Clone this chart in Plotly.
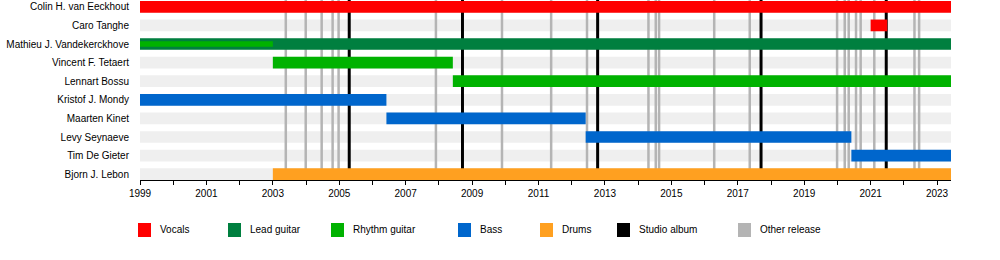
import plotly.graph_objects as go

# ---------------- data ----------------
members = [
    "Colin H. van Eeckhout", "Caro Tanghe", "Mathieu J. Vandekerckhove",
    "Vincent F. Tetaert", "Lennart Bossu", "Kristof J. Mondy",
    "Maarten Kinet", "Levy Seynaeve", "Tim De Gieter", "Bjorn J. Lebon",
]
START = 1999
END = 2023.42

roles = ["Vocals", "Lead guitar", "Rhythm guitar", "Bass", "Drums"]
role_colors = ["#ff0000", "#007f3f", "#00b200", "#0066cc", "#ffa020"]

# main membership bars
bar_member = ["Colin H. van Eeckhout", "Caro Tanghe", "Mathieu J. Vandekerckhove",
              "Vincent F. Tetaert", "Lennart Bossu", "Kristof J. Mondy",
              "Maarten Kinet", "Levy Seynaeve", "Tim De Gieter", "Bjorn J. Lebon"]
bar_role = ["Vocals", "Vocals", "Lead guitar", "Rhythm guitar", "Rhythm guitar",
            "Bass", "Bass", "Bass", "Bass", "Drums"]
bar_start = [1999, 2021.0, 1999, 2003.0, 2008.42, 1999, 2006.42, 2012.42, 2020.42, 2003.0]
bar_end = [END, 2021.5, END, 2008.42, END, 2006.42, 2012.42, 2020.42, END, END]

# secondary (thin) bars
inner_member = ["Mathieu J. Vandekerckhove"]
inner_role = ["Rhythm guitar"]
inner_start = [1999]
inner_end = [2003.0]

studio_albums = [2005.30, 2008.71, 2012.78, 2017.70, 2021.47]
other_releases = [2003.39, 2003.99, 2004.47, 2004.80, 2004.98, 2007.91, 2009.90,
                  2011.38, 2012.46, 2014.31, 2014.53, 2014.63, 2016.29, 2017.36,
                  2019.99, 2020.22, 2020.34, 2020.56, 2020.70, 2021.11, 2022.32,
                  2022.46]

tick_years = list(range(1999, 2024, 2))

legend_names = roles + ["Studio album", "Other release"]
legend_colors = role_colors + ["#000000", "#b4b4b4"]

# ---------------- figure ----------------
BAR_W = 0.63
INNER_W = 0.3
FONT = "Liberation Sans, Arial, sans-serif"
n = len(members)
pos = {m: n - 1 - i for i, m in enumerate(members)}
Y_LO, Y_HI = -0.312, n - 1 + 0.366

fig = go.Figure()
shapes = []

# background bands
for m in members:
    shapes.append(dict(type="rect", xref="x", yref="y", x0=START, x1=END,
                       y0=pos[m] - BAR_W / 2, y1=pos[m] + BAR_W / 2,
                       fillcolor="#efefef", line_width=0, layer="below"))
# release lines
for yr in other_releases:
    shapes.append(dict(type="line", xref="x", yref="y", x0=yr, x1=yr, y0=Y_LO, y1=Y_HI,
                       line=dict(color="#b4b4b4", width=2.5), layer="below"))
for yr in studio_albums:
    shapes.append(dict(type="line", xref="x", yref="y", x0=yr, x1=yr, y0=Y_LO, y1=Y_HI,
                       line=dict(color="#000000", width=3), layer="below"))

for role, color in zip(roles, role_colors):
    idx = [i for i, r in enumerate(bar_role) if r == role]
    if idx:
        fig.add_trace(go.Bar(
            orientation="h",
            y=[pos[bar_member[i]] for i in idx],
            x=[bar_end[i] - bar_start[i] for i in idx],
            base=[bar_start[i] for i in idx],
            width=BAR_W, marker=dict(color=color, line_width=0),
            name=role, showlegend=False, hoverinfo="skip"))
for role, color in zip(roles, role_colors):
    idx = [i for i, r in enumerate(inner_role) if r == role]
    if idx:
        fig.add_trace(go.Bar(
            orientation="h",
            y=[pos[inner_member[i]] for i in idx],
            x=[inner_end[i] - inner_start[i] for i in idx],
            base=[inner_start[i] for i in idx],
            width=INNER_W, marker=dict(color=color, line_width=0),
            name=role, showlegend=False, hoverinfo="skip"))

# manual legend
L, R, T, B = 140, 49, 0, 80
W, H = 1000, 260
pw, ph = W - L - R, H - T - B
leg_px = [138, 228, 331, 458, 540, 617, 738]
annotations = []
for px, name, color in zip(leg_px, legend_names, legend_colors):
    x0 = (px - L) / pw
    shapes.append(dict(type="rect", xref="paper", yref="paper",
                       x0=x0, x1=x0 + 13 / pw,
                       y0=(ph - 237) / ph, y1=(ph - 223) / ph,
                       fillcolor=color, line_width=0))
    annotations.append(dict(xref="paper", yref="paper", x=(px + 20 - L) / pw,
                            y=(ph - 230) / ph, text=name, showarrow=False,
                            xanchor="left", yanchor="middle",
                            font=dict(family=FONT, size=10, color="#000")))

fig.update_layout(
    width=W, height=H,
    margin=dict(l=L, r=R, t=T, b=B),
    paper_bgcolor="white", plot_bgcolor="white",
    barmode="overlay",
    showlegend=False,
    font=dict(family=FONT, size=10, color="#000"),
    shapes=shapes, annotations=annotations,
    xaxis=dict(range=[START, END], showgrid=False, zeroline=False,
               showline=True, linecolor="#000", linewidth=1,
               ticks="outside", ticklen=4, tickcolor="#000",
               tickvals=tick_years, ticktext=[str(y) for y in tick_years],
               minor=dict(ticks="outside", dtick=1, tick0=1999, ticklen=4,
                          tickcolor="#000", showgrid=False)),
    yaxis=dict(range=[Y_LO, Y_HI], showgrid=False, zeroline=False,
               showline=False, tickvals=[pos[m] for m in members], ticktext=members,
               ticks="outside", ticklen=8, tickcolor="rgba(0,0,0,0)"),
)

fig.write_html("out.html")
